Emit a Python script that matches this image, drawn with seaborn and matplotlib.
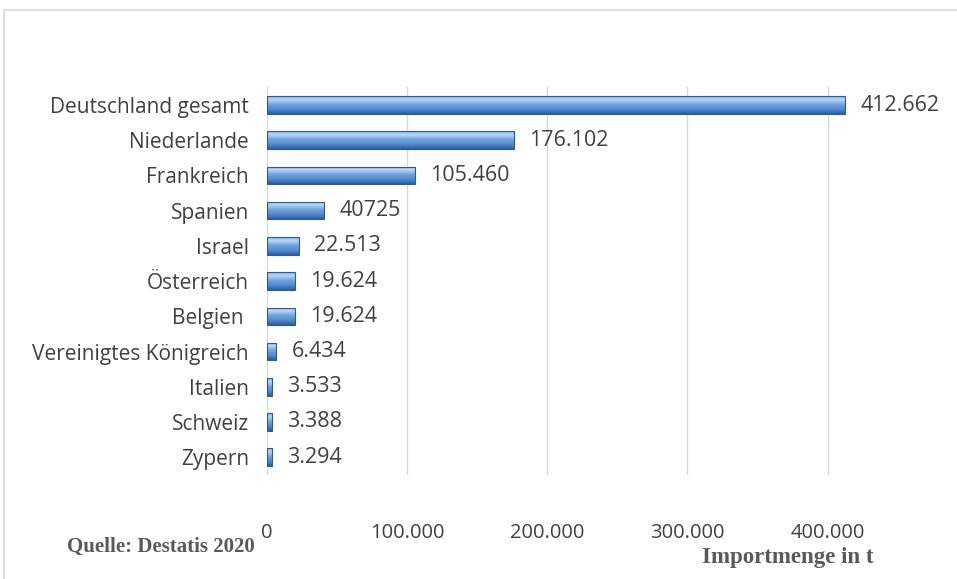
import matplotlib
matplotlib.use("Agg")
import matplotlib.pyplot as plt
import seaborn as sns
import pandas as pd
import numpy as np
from matplotlib.patches import Rectangle
from matplotlib.colors import LinearSegmentedColormap

countries = ["Deutschland gesamt", "Niederlande", "Frankreich", "Spanien", "Israel",
             "Österreich", "Belgien ", "Vereinigtes Königreich", "Italien", "Schweiz", "Zypern"]
values = [412662, 176102, 105460, 40725, 22513, 19624, 19624, 6434, 3533, 3388, 3294]
labels = ["412.662", "176.102", "105.460", "40725", "22.513", "19.624", "19.624",
          "6.434", "3.533", "3.388", "3.294"]
xticks = [0, 100000, 200000, 300000, 400000]
xticklabels = ["0", "100.000", "200.000", "300.000", "400.000"]

df = pd.DataFrame({"Land": countries, "Menge": values})

sns.set_theme(style="white")
plt.rcParams["font.family"] = ["Open Sans", "DejaVu Sans"]

fig = plt.figure(figsize=(9.57, 5.79), dpi=100)
ax = fig.add_axes([0.279, 0.180, 0.703, 0.669])

sns.barplot(data=df, x="Menge", y="Land", orient="h", color="#5B93D6",
            width=0.5, edgecolor="#2E5A94", linewidth=0.8, saturation=1, ax=ax)

xlim = (0, 480000)
ylim = ax.get_ylim()

# vertical gradient fill for 3D look
cmap = LinearSegmentedColormap.from_list(
    "bev", [(0.0, "#86B4E6"), (0.2, "#BAD6F4"), (0.45, "#72A6E0"),
            (0.75, "#5089CC"), (1.0, "#2D5D9E")])
grad = np.linspace(0, 1, 64).reshape(-1, 1)
for p in list(ax.patches):
    x0, y0 = p.get_x(), p.get_y()
    w, h = p.get_width(), p.get_height()
    im = ax.imshow(grad, cmap=cmap, aspect="auto", origin="upper",
                   extent=(x0, x0 + w, y0 + h, y0), zorder=2.1, interpolation="bilinear")
    im.set_clip_path(p)
    p.set_zorder(2.2)
    p.set_facecolor("none")

ax.set_xlim(*xlim)
ax.set_ylim(*ylim)
ax.set_xticks(xticks)
ax.set_xticklabels(xticklabels)
ax.xaxis.grid(True, color="#D9D9D9", linewidth=1)
ax.set_axisbelow(True)
for s in ax.spines.values():
    s.set_visible(False)
ax.set_xlabel("")
ax.set_ylabel("")
ax.tick_params(axis="x", length=0, pad=35, labelsize=14.5, labelcolor="#404040")
ax.tick_params(axis="y", length=0, pad=13, labelsize=15, labelcolor="#404040")

for i, (v, t) in enumerate(zip(values, labels)):
    ax.text(v + 11000, i, t, va="center", ha="left", fontsize=15.5, color="#404040")

fig.patches.append(Rectangle((4/957, -0.1), 1.2, 1 - 10/579 + 0.1, transform=fig.transFigure,
                             fill=False, edgecolor="#D9D9D9", linewidth=1.2))

fig.text(67/957, 1 - 547/579, "Quelle: Destatis 2020", family="Liberation Serif",
         fontweight="bold", fontsize=15, color="#595959", va="center")
fig.text(873/957, 1 - 557/579, "Importmenge in t", family="Liberation Serif",
         fontweight="bold", fontsize=16.5, color="#595959", va="center", ha="right")

fig.savefig("out.png", dpi=100)
